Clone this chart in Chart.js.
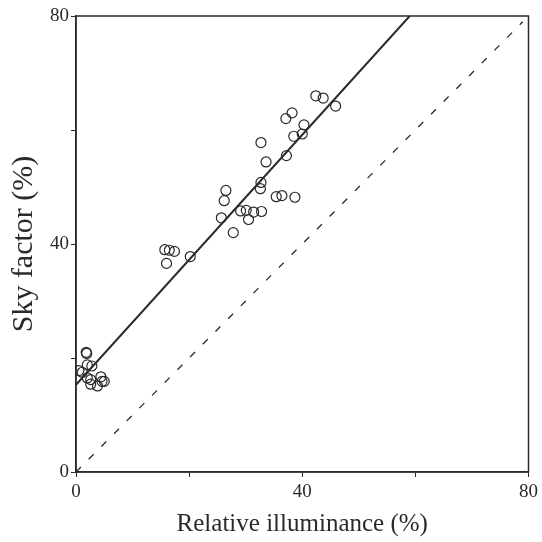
<!DOCTYPE html>
<html>
<head>
<meta charset="utf-8">
<script src="https://cdn.jsdelivr.net/npm/chart.js@4.4.0/dist/chart.umd.min.js"></script>
<style>
  html, body { margin: 0; padding: 0; background: #fff; }
  #wrap { width: 542px; height: 542px; }
</style>
</head>
<body>
<div id="wrap"><canvas id="skyChart"></canvas></div>
<script>
// measured points: relative illuminance (%) vs sky factor (%)
const illum = [
  42.4, 43.7, 45.9, 38.2, 37.1, 40.3, 38.5, 40.0, 32.7, 33.6,
  37.2, 32.7, 32.6, 26.5, 26.2, 35.4, 36.4, 38.7, 25.7, 29.1,
  30.1, 31.4, 32.8, 30.5, 27.8, 15.7, 16.5, 17.4, 16.0, 20.2,
  1.8, 1.9, 2.0, 2.8, 1.1, 0.5, 2.6, 2.6, 3.8, 4.4,
  5.0, 4.6, 2.0
];
const skyFactor = [
  66.0, 65.6, 64.2, 63.0, 62.0, 60.9, 58.9, 59.3, 57.8, 54.4,
  55.5, 50.8, 49.7, 49.4, 47.6, 48.3, 48.5, 48.2, 44.6, 45.8,
  45.9, 45.6, 45.7, 44.3, 42.0, 39.0, 38.9, 38.7, 36.6, 37.8,
  21.0, 20.8, 18.8, 18.6, 17.5, 17.8, 16.2, 15.4, 15.1, 16.7,
  15.9, 15.9, 16.5
];

// regression line and 1:1 line
const fitX = [0, 59];
const fitY = [15.3, 80];
const equalX = [0, 79];
const equalY = [0, 79];

const axisTicks = [0, 20, 40, 60, 80];
const labelledTicks = [0, 40, 80];

const ink = "#2a2a2a";
const serif = "'Liberation Serif', 'DejaVu Serif', serif";

const toPoints = (xs, ys) => xs.map((x, i) => ({ x, y: ys[i] }));

// box around the plot area
const frame = {
  id: "frame",
  afterDraw(chart) {
    const { ctx, chartArea: a } = chart;
    ctx.save();
    ctx.strokeStyle = ink;
    ctx.lineWidth = 1.5;
    ctx.strokeRect(a.left, a.top, a.right - a.left, a.bottom - a.top);
    ctx.restore();
  }
};

function axis(title, isY) {
  return {
    type: "linear",
    min: 0,
    max: 80,
    afterBuildTicks: s => { s.ticks = axisTicks.map(v => ({ value: v })); },
    afterFit: s => {
      if (isY) s.width = 76; else s.height = 70;
    },
    grid: {
      drawOnChartArea: false,
      drawTicks: true,
      tickLength: 5,
      color: ink
    },
    border: { display: true, color: ink, width: 1.5 },
    ticks: {
      color: ink,
      padding: isY ? 2 : 4,
      font: { family: serif, size: 19 },
      callback: v => (labelledTicks.includes(v) ? String(v) : "")
    },
    title: {
      display: true,
      text: title,
      color: ink,
      font: { family: serif, size: isY ? 30 : 25 },
      padding: isY ? { top: 6, bottom: 0 } : { top: 0, bottom: 3 }
    }
  };
}

new Chart(document.getElementById("skyChart"), {
  type: "scatter",
  data: {
    datasets: [
      {
        label: "Measured",
        data: toPoints(illum, skyFactor),
        pointStyle: "circle",
        pointRadius: 5,
        pointBorderWidth: 1.2,
        borderColor: ink,
        backgroundColor: "rgba(0,0,0,0)"
      },
      {
        label: "Fit",
        data: toPoints(fitX, fitY),
        showLine: true,
        pointRadius: 0,
        borderColor: ink,
        borderWidth: 2
      },
      {
        label: "1:1",
        data: toPoints(equalX, equalY),
        showLine: true,
        pointRadius: 0,
        borderColor: ink,
        borderWidth: 1.3,
        borderDash: [7, 11]
      }
    ]
  },
  options: {
    responsive: true,
    maintainAspectRatio: false,
    animation: false,
    layout: { padding: { top: 16, right: 13, left: 0, bottom: 0 } },
    plugins: {
      legend: { display: false },
      tooltip: { enabled: false }
    },
    scales: {
      x: axis("Relative illuminance (%)", false),
      y: axis("Sky factor (%)", true)
    }
  },
  plugins: [frame]
});
</script>
</body>
</html>
